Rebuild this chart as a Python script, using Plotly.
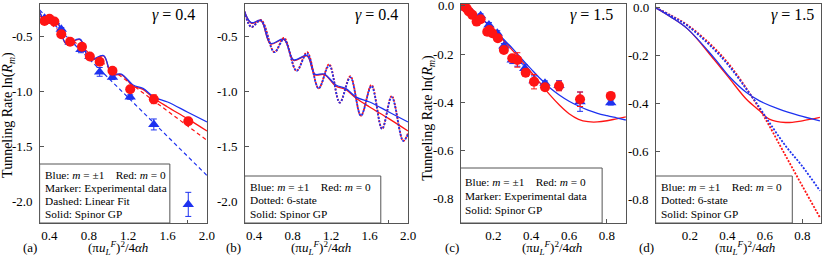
import plotly.graph_objects as go

W, H = 830, 259

# ---------------- data ----------------
# (a) gamma = 0.4 experimental data
a_red_x = [0.35, 0.40, 0.45, 0.52, 0.61, 0.73, 0.81, 0.91, 1.04, 1.22, 1.46, 1.81]
a_red_y = [-0.355, -0.335, -0.36, -0.477, -0.545, -0.59, -0.68, -0.728, -0.81, -0.978, -1.07, -1.27]
a_red_err = [0.01, 0.01, 0.01, 0.01, 0.01, 0.015, 0.01, 0.01, 0.015, 0.015, 0.04, 0.02]
a_blue_x = [0.35, 0.40, 0.45, 0.52, 0.61, 0.72, 0.81, 0.91, 1.04, 1.22, 1.46, 1.81]
a_blue_y = [-0.33, -0.34, -0.36, -0.43, -0.55, -0.615, -0.68, -0.82, -0.87, -1.05, -1.30, -2.03]
a_blue_err = [0.01, 0.01, 0.01, 0.015, 0.01, 0.03, 0.01, 0.04, 0.02, 0.02, 0.05, 0.11]
# linear fits (a)
fit_x = [0.3, 2.0]
fit_blue_y = [-0.255, -1.766]
fit_red_y = [-0.31, -1.445]
# spinor GP, gamma = 0.4
gp04_x = [0.3, 0.37, 0.47, 0.57, 0.71, 0.81, 0.95, 1.03, 1.13, 1.25, 1.35, 1.46, 1.6, 1.8, 2.0]
gp04_blue = [-0.27, -0.37, -0.35, -0.56, -0.52, -0.71, -0.67, -0.84, -0.84, -0.94, -0.97, -1.05, -1.095, -1.186, -1.278]
gp04_red = [-0.27, -0.375, -0.355, -0.565, -0.525, -0.715, -0.675, -0.845, -0.845, -0.95, -0.98, -1.06, -1.14, -1.247, -1.36]
# 6-state, gamma = 0.4
s6_04_x = [0.3, 0.37, 0.47, 0.61, 0.71, 0.84, 0.95, 1.07, 1.18, 1.29, 1.40, 1.51, 1.62, 1.73, 1.83, 1.95, 2.0]
s6_04_blue = [-0.27, -0.41, -0.35, -0.64, -0.52, -0.81, -0.65, -0.97, -0.76, -1.10, -0.87, -1.22, -0.95, -1.34, -1.05, -1.45, -1.39]
s6_04_red = [-0.27, -0.41, -0.345, -0.64, -0.51, -0.81, -0.64, -0.97, -0.75, -1.10, -0.86, -1.22, -0.94, -1.34, -1.04, -1.45, -1.38]

# (c) gamma = 1.5 experimental data
c_red_x = [0.041, 0.059, 0.071, 0.089, 0.112, 0.133, 0.168, 0.18, 0.195, 0.224, 0.256, 0.30, 0.327, 0.371, 0.415, 0.473, 0.547, 0.658, 0.82]
c_red_y = [0.0, -0.01, -0.023, -0.037, -0.065, -0.055, -0.107, -0.10, -0.113, -0.134, -0.183, -0.217, -0.224, -0.277, -0.314, -0.337, -0.332, -0.387, -0.373]
c_red_err = [0.005, 0.005, 0.005, 0.005, 0.008, 0.008, 0.01, 0.01, 0.01, 0.01, 0.01, 0.012, 0.03, 0.015, 0.03, 0.01, 0.02, 0.03, 0.01]
c_blue_x = [0.038, 0.06, 0.09, 0.133, 0.177, 0.221, 0.256, 0.30, 0.327, 0.366, 0.415, 0.473, 0.547, 0.658, 0.82]
c_blue_y = [0.008, -0.01, -0.03, -0.041, -0.079, -0.113, -0.166, -0.224, -0.23, -0.259, -0.31, -0.321, -0.33, -0.397, -0.401]
c_blue_err = [0.005, 0.005, 0.005, 0.008, 0.01, 0.01, 0.01, 0.015, 0.02, 0.015, 0.02, 0.01, 0.02, 0.04, 0.01]
# spinor GP, gamma = 1.5 (panel c)
gpc_x = [0.027, 0.1, 0.15, 0.2, 0.25, 0.3, 0.35, 0.4, 0.45, 0.5, 0.55, 0.6, 0.65, 0.7, 0.75, 0.8, 0.85, 0.9]
gpc_blue = [0.0, -0.03, -0.06, -0.095, -0.135, -0.175, -0.22, -0.262, -0.303, -0.34, -0.37, -0.395, -0.415, -0.432, -0.445, -0.455, -0.464, -0.473]
gpc_red = [0.0, -0.03, -0.062, -0.098, -0.14, -0.183, -0.228, -0.275, -0.322, -0.37, -0.412, -0.447, -0.47, -0.48, -0.481, -0.476, -0.468, -0.46]
# panel d curves
gpd_blue_x = [0.017, 0.1, 0.189, 0.328, 0.415, 0.502, 0.572, 0.676, 0.78, 0.894]
gpd_blue = [0.0, -0.04, -0.09, -0.209, -0.292, -0.355, -0.39, -0.424, -0.45, -0.473]
gpd_red_x = [0.017, 0.1, 0.189, 0.328, 0.415, 0.502, 0.572, 0.624, 0.711, 0.8, 0.894]
gpd_red = [0.0, -0.04, -0.09, -0.216, -0.30, -0.383, -0.431, -0.466, -0.48, -0.473, -0.459]
s6d_blue_x = [0.017, 0.1, 0.189, 0.328, 0.415, 0.502, 0.554, 0.624, 0.711, 0.798, 0.894]
s6d_blue = [0.0, -0.035, -0.077, -0.174, -0.25, -0.341, -0.397, -0.48, -0.578, -0.661, -0.765]
s6d_red_x = [0.017, 0.1, 0.189, 0.328, 0.415, 0.502, 0.572, 0.624, 0.711, 0.8, 0.894]
s6d_red = [0.0, -0.033, -0.074, -0.167, -0.243, -0.338, -0.424, -0.494, -0.619, -0.745, -0.877]

# tick labels
ticks_x_ab = [0.4, 0.8, 1.2, 1.6, 2.0]
ticks_x_ab_text = ["0.4", "0.8", "1.2", "1.6", "2.0"]
ticks_y_ab = [-0.5, -1.0, -1.5, -2.0]
ticks_y_ab_text = ["-0.5", "-1.0", "-1.5", "-2.0"]
ticks_x_cd = [0.2, 0.4, 0.6, 0.8]
ticks_x_cd_text = ["0.2", "0.4", "0.6", "0.8"]
ticks_y_cd = [0.0, -0.2, -0.4, -0.6, -0.8]
ticks_y_cd_text = ["0.0", "-0.2", "-0.4", "-0.6", "-0.8"]

# ---------------- style ----------------
RED = "rgb(255,20,20)"
BLUE = "rgb(30,50,240)"
FONT = "Liberation Serif"
AX = "#555555"
DOT = "2px,1.5px"

def px(x):
    return x / W

def py(y):
    return 1 - y / H

fig = go.Figure()

def line(x, y, color, ax, dash=None, width=1.3, shape="spline"):
    fig.add_trace(go.Scatter(x=x, y=y, mode="lines", xaxis="x" + ax, yaxis="y" + ax,
                             line=dict(color=color, width=width, dash=dash, shape=shape, smoothing=1.0),
                             showlegend=False, hoverinfo="skip"))

def markers(x, y, err, color, symbol, ax):
    fig.add_trace(go.Scatter(x=x, y=y, mode="markers", xaxis="x" + ax, yaxis="y" + ax,
                             marker=dict(color=color, symbol=symbol, size=10, line=dict(width=0)),
                             error_y=dict(type="data", array=err, color=color, thickness=1, width=3),
                             showlegend=False, hoverinfo="skip"))

# panel a
line(fit_x, fit_blue_y, BLUE, "", dash="4px,3px", width=1.2, shape="linear")
line(fit_x, fit_red_y, RED, "", dash="4px,3px", width=1.2, shape="linear")
line(gp04_x, gp04_red, RED, "")
line(gp04_x, gp04_blue, BLUE, "")
markers(a_blue_x, a_blue_y, a_blue_err, BLUE, "triangle-up", "")
markers(a_red_x, a_red_y, a_red_err, RED, "circle", "")

# panel b
line(gp04_x, gp04_red, RED, "2")
line(gp04_x, gp04_blue, BLUE, "2")
line(s6_04_x, s6_04_red, RED, "2", dash=DOT, width=1.8)
line(s6_04_x, s6_04_blue, BLUE, "2", dash=DOT, width=1.8)

# panel c
line(gpc_x, gpc_red, RED, "3")
line(gpc_x, gpc_blue, BLUE, "3")
markers(c_blue_x, c_blue_y, c_blue_err, BLUE, "triangle-up", "3")
markers(c_red_x, c_red_y, c_red_err, RED, "circle", "3")

# panel d
line(gpd_red_x, gpd_red, RED, "4")
line(gpd_blue_x, gpd_blue, BLUE, "4")
line(s6d_red_x, s6d_red, RED, "4", dash=DOT, width=1.8)
line(s6d_blue_x, s6d_blue, BLUE, "4", dash=DOT, width=1.8)

panels = {
    "": dict(x0=40, x1=209, xr=[0.3, 2.0], yr=[-2.2, -0.2], xt=(ticks_x_ab, ticks_x_ab_text), yt=(ticks_y_ab, ticks_y_ab_text), minor=True),
    "2": dict(x0=247, x1=412, xr=[0.3, 2.0], yr=[-2.2, -0.2], xt=(ticks_x_ab, ticks_x_ab_text), yt=(ticks_y_ab, ticks_y_ab_text), minor=True),
    "3": dict(x0=465, x1=632, xr=[0.027, 0.9], yr=[-0.9, 0.008], xt=(ticks_x_cd, ticks_x_cd_text), yt=(ticks_y_cd, ticks_y_cd_text), minor=False),
    "4": dict(x0=662, x1=829, xr=[0.017, 0.9], yr=[-0.9, 0.015], xt=(ticks_x_cd, ticks_x_cd_text), yt=(ticks_y_cd, ticks_y_cd_text), minor=False),
}
Y0, Y1 = 4, 223
layout = dict(width=W, height=H, margin=dict(l=0, r=0, t=0, b=0),
              paper_bgcolor="white", plot_bgcolor="white",
              font=dict(family=FONT, size=13, color="black"), showlegend=False)
for k, p in panels.items():
    xa = dict(domain=[px(p["x0"]), px(p["x1"])], range=p["xr"], anchor="y" + k,
              showline=True, linecolor=AX, linewidth=1, mirror=True, ticks="inside", ticklen=4,
              tickcolor=AX, tickvals=p["xt"][0], ticktext=p["xt"][1], showgrid=False, zeroline=False,
              ticklabelstandoff=0, tickfont=dict(size=13, family=FONT, color="black"))
    if p["minor"]:
        xa["minor"] = dict(tickvals=[0.6, 1.0, 1.4, 1.8], ticks="inside", ticklen=3, tickcolor=AX, showgrid=False)
    # y tick labels drawn as annotations below (keeps the short ASCII hyphen)
    ya = dict(domain=[py(Y1), py(Y0)], range=p["yr"], anchor="x" + k,
              showline=True, linecolor=AX, linewidth=1, mirror=True, ticks="inside", ticklen=4,
              tickcolor=AX, tickvals=p["yt"][0], showticklabels=False, showgrid=False, zeroline=False)
    layout["xaxis" + k] = xa
    layout["yaxis" + k] = ya
fig.update_layout(**layout)

shapes = []
ann = []
# y tick labels as annotations anchored to each y axis
for k, p in panels.items():
    for v, t in zip(p["yt"][0], p["yt"][1]):
        ann.append(dict(xref="x" + k + " domain" if k else "x domain", yref="y" + k if k else "y",
                        x=0, y=v, xshift=-5, text=t, showarrow=False, xanchor="right", yanchor="middle",
                        font=dict(size=13, family=FONT, color="black")))

NB = "\u00a0"
first_line = "Blue: <i>m</i> = ±1" + NB * 3 + " Red: <i>m</i> = 0"
boxes = [
    (40, 171.5, 164, [first_line, "Marker: Experimental data", "Dashed: Linear Fit", "Solid: Spinor GP"], [174.5, 188, 201, 214]),
    (247, 384.5, 176, [first_line, "Dotted: 6-state", "Solid: Spinor GP"], [186.5, 200, 214]),
    (465, 608, 168, [first_line, "Marker: Experimental data", "Solid: Spinor GP"], [182, 195.5, 209.5]),
    (662, 800, 176, [first_line, "Dotted: 6-state", "Solid: Spinor GP"], [186.5, 200, 214]),
]
for x0, x1, top, lines, ys in boxes:
    shapes.append(dict(type="rect", xref="paper", yref="paper", x0=px(x0), x1=px(x1), y0=py(Y1), y1=py(top),
                       line=dict(color=AX, width=1), fillcolor="white", layer="above"))
    for t, yy in zip(lines, ys):
        ann.append(dict(xref="paper", yref="paper", x=px(x0 + 3), y=py(yy), text=t, showarrow=False,
                        xanchor="left", yanchor="middle", font=dict(size=11.3, family=FONT, color="black")))

for cx, t in [(175, "<i>γ</i> = 0.4"), (380, "<i>γ</i> = 0.4"), (597, "<i>γ</i> = 1.5"), (800, "<i>γ</i> = 1.5")]:
    ann.append(dict(xref="paper", yref="paper", x=px(cx), y=py(15), text=t, showarrow=False,
                    xanchor="center", yanchor="middle", font=dict(size=16, family=FONT, color="black")))

xt = "(π<i>u</i><sub><i>L</i></sub><sup><i>F</i></sup>)<sup>2</sup>/4<i>αh</i>"
for cx in [119, 324, 557, 752]:
    ann.append(dict(xref="paper", yref="paper", x=px(cx), y=py(248), text=xt, showarrow=False,
                    xanchor="center", yanchor="middle", font=dict(size=13, family=FONT, color="black")))
for cx, t in [(30, "(a)"), (236, "(b)"), (456, "(c)"), (653, "(d)")]:
    ann.append(dict(xref="paper", yref="paper", x=px(cx), y=py(247), text=t, showarrow=False,
                    xanchor="center", yanchor="middle", font=dict(size=13, family=FONT, color="black")))
yt = "Tunneling Rate ln(<i>R</i><sub><i>m</i></sub>)"
for cx, cy in [(8, 115), (432, 118)]:
    ann.append(dict(xref="paper", yref="paper", x=px(cx), y=py(cy), text=yt, showarrow=False, textangle=-90,
                    xanchor="center", yanchor="middle", font=dict(size=14, family=FONT, color="black")))

fig.update_layout(shapes=shapes, annotations=ann)
fig.write_html("out.html", config={"displayModeBar": False},
               post_script="document.body.style.margin='0';document.body.style.overflow='hidden';")
